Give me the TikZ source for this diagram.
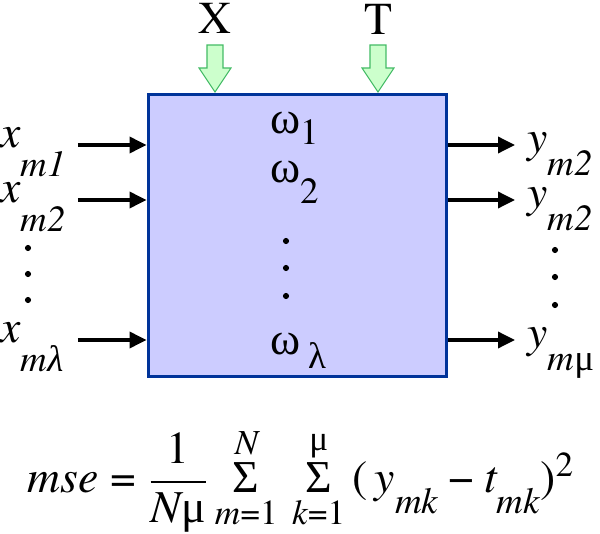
\documentclass[tikz,border=0pt]{standalone}
\usepackage{amsmath}
\usepackage{fontspec}
\setmainfont{texgyretermes}[Extension=.otf, UprightFont=*-regular, ItalicFont=*-italic, BoldFont=*-bold, BoldItalicFont=*-bolditalic]
\newfontfamily\grk{Liberation Serif}
\usepackage{tikz}
\usetikzlibrary{arrows.meta,positioning,calc}
\DeclareMathSizes{26}{26}{20}{15}

\definecolor{boxfill}{HTML}{CCCCFF}
\definecolor{boxline}{HTML}{003399}
\definecolor{inputfill}{HTML}{CCFFCC}
\definecolor{inputline}{HTML}{44BB66}

% lowered subscript in the PowerPoint manner
\newcommand\lowsub[2][0.62em]{\raisebox{-#1}{\fontsize{21}{21}\selectfont #2}}
\newcommand\gk[1]{{\grk #1}}

\tikzset{
  inarrow/.pic={
    \draw[fill=inputfill, draw=inputline, line width=0.6pt]
      (-8,0) -- (-8,23) -- (-16,23) -- (0,47) -- (16,23) -- (8,23) -- (8,0) -- cycle;
  },
  flow/.style={line width=2pt, -{Triangle[length=0.34cm, width=0.32cm]}},
  dot/.style={circle, fill=black, inner sep=0pt, minimum size=3.5pt},
  lab/.style={anchor=base west, inner sep=0pt},
  toplab/.style={anchor=base, inner sep=0pt, text height=17pt, text depth=0pt}
}

\begin{document}
\begin{tikzpicture}[x=0.02cm, y=-0.02cm, every node/.style={font=\fontsize{26}{31}\selectfont}]
    \useasboundingbox (0,0) rectangle (600,534);

    % network box
    \node[draw=boxline, fill=boxfill, line width=1.7pt, minimum width=5.98cm, minimum height=5.66cm] (net) at (297.5,235.5) {};

    % training inputs
    \node[toplab] (X) at (215,33) {X};
    \node[toplab] (T) at (378,34) {T};
    \pic at (215,45) {inarrow};
    \pic at (378,45) {inarrow};

    % weights
    \node[lab] (w1) at (270,133) {\gk{ω}\lowsub[0.26em]{1}};
    \node[lab] (w2) at (270,183) {\gk{ω}\lowsub[0.45em]{2}};
    \node[dot] (wd1) at (286,241) {};
    \node[dot] (wd2) at (286,268) {};
    \node[dot] (wd3) at (286,296) {};
    \node[lab] (wl) at (270,355) {\gk{ω}\,\lowsub[0.3em]{\gk{λ}}};

    % inputs
    \node[lab] (x1) at (0,148) {\textit{x}\lowsub{\textit{m1}}};
    \node[lab] (x2) at (0,203) {\textit{x}\lowsub{\textit{m2}}};
    \node[dot] (xd1) at (28,248) {};
    \node[dot] (xd2) at (28,274) {};
    \node[dot] (xd3) at (28,300) {};
    \node[lab] (xl) at (0,343) {\textit{x}\lowsub{\textit{m}{\grk\itshape λ}}};
    \coordinate (a1) at (78,145);
    \coordinate (a2) at (78,200);
    \coordinate (a3) at (78,340);
    \draw[flow] (a1) -- (a1 -| net.west);
    \draw[flow] (a2) -- (a2 -| net.west);
    \draw[flow] (a3) -- (a3 -| net.west);

    % outputs
    \node[lab] (y1) at (527,153) {\textit{y}\lowsub[0.5em]{\textit{m2}}};
    \node[lab] (y2) at (527,208) {\textit{y}\lowsub[0.5em]{\textit{m2}}};
    \node[dot] (yd1) at (555,250) {};
    \node[dot] (yd2) at (555,277) {};
    \node[dot] (yd3) at (555,305) {};
    \node[lab] (yl) at (527,348) {\textit{y}\lowsub[0.5em]{\textit{m}\gk{μ}}};
    \coordinate (b1) at (515,145);
    \coordinate (b2) at (515,200);
    \coordinate (b3) at (515,340);
    \draw[flow] (b1 -| net.east) -- (b1);
    \draw[flow] (b2 -| net.east) -- (b2);
    \draw[flow] (b3 -| net.east) -- (b3);

    % error measure
    \node[lab] (mse) at (27,493) {$\textit{mse} \mathrel{\text{=}} \dfrac{\text{1}}{\textit{N}\text{\gk{μ}}}
      \mathop{\text{\gk{Σ}}}\limits^{\textit{N}}_{\textit{m}\text{=1}}\,
      \mathop{\text{\gk{Σ}}}\limits^{\text{\gk{μ}}}_{\textit{k}\text{=1}}
      \text{(}\,\textit{y}\lowsub[0.45em]{\textit{mk}} \mathbin{\text{−}} \textit{t}\lowsub[0.45em]{\textit{mk}}\text{)}^{\text{2}}$};
\end{tikzpicture}
\end{document}
